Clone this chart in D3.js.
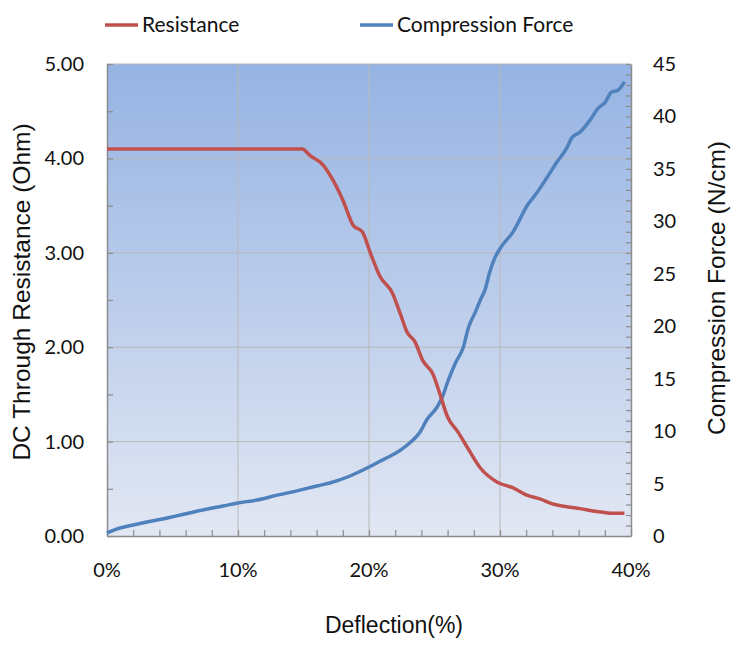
<!DOCTYPE html>
<html lang="en">
<head>
<meta charset="UTF-8">
<title>Resistance and Compression Force vs Deflection</title>
<style>
  body { margin: 0; background: #fff; }
  svg { display: block; }
  .tick-label { font-family: Lato, "Open Sans", sans-serif; font-size: 20px; fill: #111; }
  .axis-title { font-family: "Liberation Sans", Arial, sans-serif; font-size: 24.5px; fill: #111; }
  .legend-text { font-family: Lato, "Open Sans", sans-serif; font-size: 21px; fill: #111; }
</style>
</head>
<body>
<div id="chart"></div>
<script src="https://d3js.org/d3.v7.min.js"></script>
<script>
// Resistance (Ohm) vs deflection (%)
const resDeflection = [0, 5, 10, 14.9, 15.5, 16.5, 17.25, 18.0, 18.8, 19.5, 20.1, 20.8, 21.8, 22.4, 22.9, 23.5, 24.1, 24.9, 25.4, 26.0, 26.8, 27.5, 28.5, 29.8, 31.0, 32.1, 33.1, 34.0, 35.1, 36.1, 37.4, 38.6, 39.5];
const resistance    = [4.10, 4.10, 4.10, 4.10, 4.03, 3.93, 3.77, 3.56, 3.29, 3.22, 3.00, 2.76, 2.57, 2.35, 2.16, 2.06, 1.86, 1.71, 1.51, 1.26, 1.10, 0.94, 0.72, 0.57, 0.51, 0.43, 0.39, 0.34, 0.31, 0.29, 0.26, 0.24, 0.24];

// Compression force (N/cm) vs deflection (%)
const forceDeflection = [0, 1.0, 2.0, 3.05, 4.6, 5.6, 7.3, 8.85, 10.0, 11.45, 13.0, 14.5, 16.0, 17.0, 18.55, 19.85, 20.8, 21.6, 22.3, 23.1, 23.9, 24.4, 25.2, 25.6, 26.0, 26.6, 27.2, 27.6, 28.1, 28.5, 28.85, 29.2, 29.6, 30.0, 31.0, 32.1, 32.8, 33.6, 34.35, 35.1, 35.5, 36.1, 36.9, 37.5, 38.0, 38.5, 39.0, 39.5];
const force           = [0.3, 0.76, 1.05, 1.33, 1.72, 2.0, 2.48, 2.86, 3.15, 3.43, 3.9, 4.3, 4.77, 5.05, 5.72, 6.48, 7.1, 7.6, 8.1, 8.87, 9.91, 11.06, 12.3, 13.25, 14.68, 16.5, 18.0, 19.9, 21.3, 22.5, 23.45, 25.1, 26.5, 27.4, 29.0, 31.55, 32.7, 34.2, 35.65, 37.0, 38.0, 38.5, 39.7, 40.8, 41.3, 42.3, 42.5, 43.3];

const xTicks = [0, 10, 20, 30, 40];
const leftTicks = [0, 1, 2, 3, 4, 5];
const rightTicks = [0, 5, 10, 15, 20, 25, 30, 35, 40, 45];
const seriesNames = ["Resistance", "Compression Force"];
const seriesColors = ["#c0504d", "#4f81bd"];

const width = 735, height = 646;
const margin = { top: 64, right: 104, bottom: 110, left: 107 };
const innerW = width - margin.left - margin.right;
const innerH = height - margin.top - margin.bottom;

const svg = d3.select("#chart").append("svg")
  .attr("width", width)
  .attr("height", height);

const x = d3.scaleLinear().domain([0, 40]).range([0, innerW]);
const yL = d3.scaleLinear().domain([0, 5]).range([innerH, 0]);
const yR = d3.scaleLinear().domain([0, 45]).range([innerH, 0]);

// background gradient
const grad = svg.append("defs").append("linearGradient")
  .attr("id", "bg").attr("x1", 0).attr("y1", 0).attr("x2", 0).attr("y2", 1);
grad.append("stop").attr("offset", "0%").attr("stop-color", "#95b3e3");
grad.append("stop").attr("offset", "100%").attr("stop-color", "#e2e7f3");

const g = svg.append("g").attr("transform", `translate(${margin.left},${margin.top})`);

g.append("rect")
  .attr("width", innerW).attr("height", innerH)
  .attr("fill", "url(#bg)");

// gridlines
g.selectAll(".hgrid").data(leftTicks.slice(1)).enter().append("line")
  .attr("x1", 0).attr("x2", innerW)
  .attr("y1", d => yL(d)).attr("y2", d => yL(d))
  .attr("stroke", "#b9b9b9").attr("stroke-width", 1);
g.selectAll(".vgrid").data(xTicks.slice(1, -1)).enter().append("line")
  .attr("x1", d => x(d)).attr("x2", d => x(d))
  .attr("y1", 0).attr("y2", innerH)
  .attr("stroke", "#b9b9b9").attr("stroke-width", 1);

// axes (inner ticks, no labels)
const axisColor = "#8c8c8c";
function styleAxis(sel) {
  sel.select(".domain").attr("stroke", axisColor).attr("stroke-width", 1.5);
  sel.selectAll(".tick line").attr("stroke", axisColor).attr("stroke-width", 1.2);
  sel.selectAll(".tick text").remove();
}

g.append("g").attr("transform", `translate(0,${innerH})`)
  .call(d3.axisTop(x).tickValues(d3.range(0, 41, 2)).tickSize(6).tickSizeOuter(0))
  .call(styleAxis);
g.append("g")
  .call(d3.axisRight(yL).tickValues(d3.range(0, 5.01, 0.5)).tickSize(6).tickSizeOuter(0))
  .call(styleAxis);
g.append("g").attr("transform", `translate(${innerW},0)`)
  .call(d3.axisLeft(yR).tickValues(d3.range(0, 46, 1)).tickSize(5).tickSizeOuter(0))
  .call(styleAxis);

// tick labels
g.selectAll(".xl").data(xTicks).enter().append("text")
  .attr("class", "tick-label")
  .attr("x", d => x(d)).attr("y", innerH + 41)
  .attr("text-anchor", "middle")
  .text(d => d + "%");
g.selectAll(".yl").data(leftTicks).enter().append("text")
  .attr("class", "tick-label")
  .attr("x", -23).attr("y", d => yL(d)).attr("dy", "0.35em")
  .attr("text-anchor", "end")
  .text(d => d.toFixed(2));
g.selectAll(".yr").data(rightTicks).enter().append("text")
  .attr("class", "tick-label")
  .attr("x", innerW + 22).attr("y", d => yR(d)).attr("dy", "0.35em")
  .attr("text-anchor", "start")
  .text(d => d);

// lines
const resData = resDeflection.map((d, i) => [d, resistance[i]]);
const forceData = forceDeflection.map((d, i) => [d, force[i]]);

g.append("path").datum(forceData)
  .attr("fill", "none").attr("stroke", seriesColors[1]).attr("stroke-width", 3.5)
  .attr("stroke-linejoin", "round")
  .attr("d", d3.line().x(d => x(d[0])).y(d => yR(d[1])).curve(d3.curveMonotoneX));
g.append("path").datum(resData)
  .attr("fill", "none").attr("stroke", seriesColors[0]).attr("stroke-width", 3.5)
  .attr("stroke-linejoin", "round")
  .attr("d", d3.line().x(d => x(d[0])).y(d => yL(d[1])).curve(d3.curveMonotoneX));

// axis titles
svg.append("text").attr("class", "axis-title")
  .attr("x", 394).attr("y", 633)
  .style("font-size", "23px")
  .attr("text-anchor", "middle").text("Deflection(%)");
svg.append("text").attr("class", "axis-title")
  .attr("transform", "translate(30,292) rotate(-90)")
  .attr("text-anchor", "middle").text("DC Through Resistance (Ohm)");
svg.append("text").attr("class", "axis-title")
  .attr("transform", "translate(725,288) rotate(-90)")
  .attr("text-anchor", "middle").text("Compression Force (N/cm)");

// legend
const legendX = [105, 360];
const legend = svg.selectAll(".legend").data(seriesNames).enter().append("g")
  .attr("transform", (d, i) => `translate(${legendX[i]},25)`);
legend.append("line")
  .attr("x1", 0).attr("x2", 33).attr("y1", 0).attr("y2", 0)
  .attr("stroke", (d, i) => seriesColors[i]).attr("stroke-width", 3.5);
legend.append("text").attr("class", "legend-text")
  .attr("x", 37).attr("dy", "0.35em").text(d => d);
</script>
</body>
</html>
